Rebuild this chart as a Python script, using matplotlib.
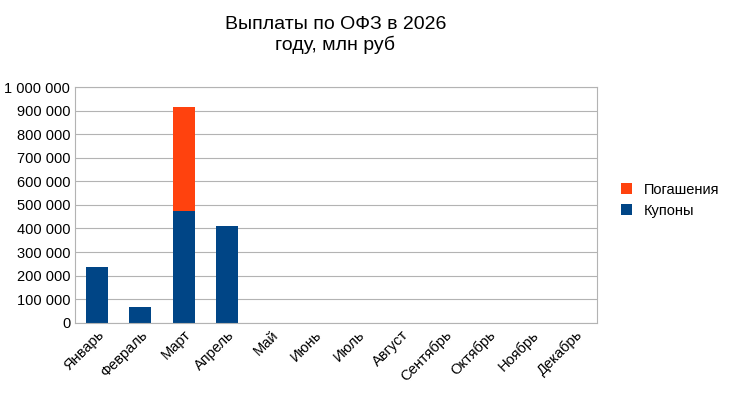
import matplotlib
matplotlib.use("Agg")
import matplotlib.pyplot as plt
from matplotlib.ticker import FuncFormatter

months = ["Январь", "Февраль", "Март", "Апрель", "Май", "Июнь", "Июль",
          "Август", "Сентябрь", "Октябрь", "Ноябрь", "Декабрь"]
coupons = [238000, 68000, 475000, 412000, 0, 0, 0, 0, 0, 0, 0, 0]
redemptions = [0, 0, 440000, 0, 0, 0, 0, 0, 0, 0, 0, 0]

plt.rcParams['font.family'] = ['Liberation Sans', 'DejaVu Sans']
fig = plt.figure(figsize=(7.29, 4.01), dpi=100)
ax = fig.add_axes([0.103, 0.195, 0.716, 0.588])

x = range(len(months))
ax.bar(x, coupons, width=0.5, color="#004586", label="Купоны")
ax.bar(x, redemptions, width=0.5, bottom=coupons, color="#ff420e", label="Погашения")

ax.set_xlim(-0.5, 11.5)
ax.set_ylim(0, 1000000)
ax.set_yticks(range(0, 1000001, 100000))
ax.yaxis.set_major_formatter(FuncFormatter(lambda v, p: f"{int(v):,}".replace(",", " ")))
ax.set_xticks(list(x))
ax.set_xticklabels(months, rotation=45, ha="right", rotation_mode="anchor", fontsize=10.5)
ax.tick_params(axis="y", labelsize=10.5, length=0)
ax.tick_params(axis="x", length=0)
ax.grid(axis="y", color="#b3b3b3", linewidth=0.8)
ax.set_axisbelow(True)
for s in ax.spines.values():
    s.set_color("#b3b3b3")

fig.suptitle("Выплаты по ОФЗ в 2026\nгоду, млн руб", x=0.46, y=0.96, fontsize=14)

h, l = ax.get_legend_handles_labels()
ax.legend(h[::-1], l[::-1], loc="center left", bbox_to_anchor=(1.02, 0.52),
          frameon=False, fontsize=10.5, handlelength=0.8, handleheight=0.8)

fig.savefig("out.png", dpi=100)
